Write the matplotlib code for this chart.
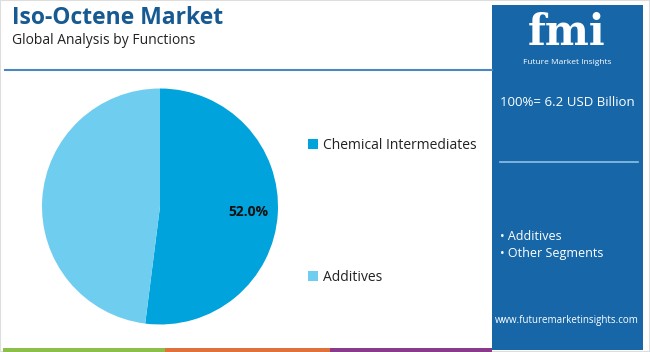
import matplotlib.pyplot as plt
from matplotlib.patches import Rectangle
from matplotlib.lines import Line2D

plt.rcParams['font.family'] = ['Open Sans', 'DejaVu Sans']

segmentler = ['Chemical Intermediates', 'Additives']
paylar = [52.0, 48.0]
renkler = ['#00a3dc', '#6fcdf0']
yan_liste = ['Additives', 'Other Segments']

W, H = 650, 352
fig = plt.figure(figsize=(W / 100, H / 100), dpi=100)
fig.patch.set_facecolor('white')

def fx(x):
    return x / W

def fy(y):
    return 1 - y / H

# cerceve ve ust cizgi
fig.add_artist(Rectangle((0, 0), 1, 1, transform=fig.transFigure, fill=False,
                         edgecolor='#dddddd', lw=1.5))
fig.add_artist(Line2D([fx(5), fx(492)], [fy(70), fy(70)], transform=fig.transFigure,
                      color='#4a86c0', lw=1.5))

# alt renkli serit
for x0, x1, c in [(3, 165, '#8cbf4a'), (165, 330, '#e0703c'), (330, 492, '#8a3a8a')]:
    fig.add_artist(Rectangle((fx(x0), 0), fx(x1) - fx(x0), 4 / H, transform=fig.transFigure,
                             facecolor=c, edgecolor='none'))

# sag panel
fig.add_artist(Rectangle((fx(492), fy(350)), fx(643) - fx(492), 345 / H, transform=fig.transFigure,
                         facecolor='#1767a8', edgecolor='none'))
fig.text(fx(567), fy(33), 'fmi', color='white', fontsize=30, fontweight='bold', family='DejaVu Serif',
         ha='center', va='center')
fig.text(fx(567), fy(62), 'Future Market Insights', color='white', fontsize=6, ha='center', va='center')
fig.text(fx(567), fy(103), '100%= 6.2 USD Billion', color='white', fontsize=9.5, ha='center', va='center')
fig.add_artist(Line2D([fx(500), fx(638)], [fy(162), fy(162)], transform=fig.transFigure,
                      color='#8fc0e8', lw=1.2))
for i, s in enumerate(yan_liste):
    fig.text(fx(500), fy(237 + 17 * i), '• ' + s, color='white', fontsize=9, ha='left', va='center')
fig.text(fx(567), fy(320), 'www.futuremarketinsights.com', color='white', fontsize=7,
         ha='center', va='center')

# baslik
fig.text(fx(12), fy(18), 'Iso-Octene Market', color='#175a92', fontsize=16.5, fontweight='bold',
         ha='left', va='center')
fig.text(fx(12), fy(41), 'Global Analysis by Functions', color='#222222', fontsize=10,
         ha='left', va='center')

# pasta
ax = fig.add_axes([fx(42), fy(324.5), 236 / W, 236 / H])
wedges, texts, autotexts = ax.pie(paylar, colors=renkler, startangle=90, counterclock=False,
                                  autopct='%.1f%%', pctdistance=0.75, radius=1,
                                  textprops={'fontsize': 10, 'fontweight': 'bold', 'color': '#111111'})
autotexts[1].set_visible(False)
ax.set_xlim(-1, 1)
ax.set_ylim(-1, 1)

fig.legend(wedges, segmentler, loc='upper left', bbox_to_anchor=(fx(301), fy(131)),
           frameon=False, fontsize=10, handlelength=0.7, handleheight=0.7, handletextpad=0.35,
           labelspacing=8.4, borderpad=0, labelcolor='#222222')

fig.savefig('out.png', dpi=100, facecolor='white')
